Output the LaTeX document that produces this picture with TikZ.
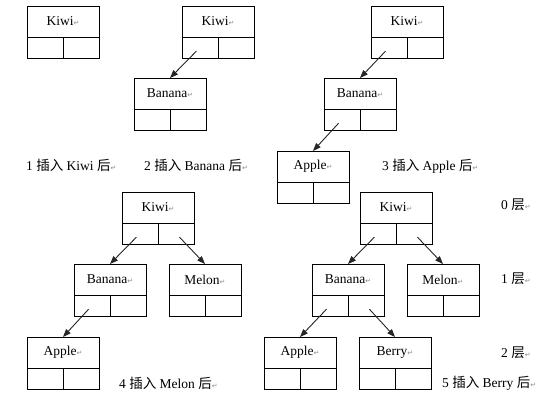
\documentclass[tikz,border=0pt]{standalone}
\usepackage{fontspec}
\setmainfont{Liberation Serif}
\newfontfamily\cjk{Noto Sans CJK SC}
\newfontfamily\symfont{DejaVu Sans}
\usetikzlibrary{arrows.meta}

% paragraph mark as printed after each text
\newcommand{\pmark}{{\symfont\fontsize{7}{7}\selectfont\color{black!45}↵}}

% one tree node: name, x, y (top left), key
\newcommand{\bstnode}[4]{%
  \node [keybox, anchor=north west] (#1) at (#2,#3) {#4\pmark};
  \node [cellbox, anchor=north west] (#1-l) at (#1.south west) {};
  \node [cellbox, anchor=north east] (#1-r) at (#1.south east) {};
}

\tikzset{
  keybox/.style={draw, line width=0.9pt, outer sep=0pt, minimum width=72pt, minimum height=31pt, inner sep=0pt, font=\fontsize{13.5}{15}\selectfont},
  cellbox/.style={draw, line width=0.9pt, outer sep=0pt, minimum width=36pt, minimum height=21pt, inner sep=0pt},
  link/.style={line width=0.9pt, black!85, shorten <=5pt, -{Triangle[length=8pt,width=6pt]}},
  caption/.style={anchor=west, inner sep=0pt, font=\fontsize{13.5}{15}\selectfont}
}

\begin{document}
\begin{tikzpicture}[x=1pt, y=-1pt]

\fill [white] (0,0) rectangle (543,400);
\useasboundingbox (0,0) rectangle (543,400);

% 1
\bstnode{kiwiA}{27}{6}{Kiwi}

% 2
\bstnode{kiwiB}{182}{6}{Kiwi}
\bstnode{bananaB}{134}{78}{Banana}

% 3
\bstnode{kiwiC}{371}{6}{Kiwi}
\bstnode{bananaC}{324}{78}{Banana}
\bstnode{appleC}{277}{151}{Apple}

% 4
\bstnode{kiwiD}{122}{192}{Kiwi}
\bstnode{bananaD}{74}{264}{Banana}
\bstnode{melonD}{169}{264}{Melon}
\bstnode{appleD}{27}{337}{Apple}

% 5
\bstnode{kiwiE}{360}{192}{Kiwi}
\bstnode{bananaE}{312}{264}{Banana}
\bstnode{melonE}{407}{264}{Melon}
\bstnode{appleE}{264}{337}{Apple}
\bstnode{berryE}{359}{337}{Berry}


\draw [link] (kiwiB-l.center) -- (bananaB.north);

\draw [link] (kiwiC-l.center) -- (bananaC.north);
\draw [link] (bananaC-l.center) -- (appleC.north);

\draw [link] (kiwiD-l.center) -- (bananaD.north);
\draw [link] (kiwiD-r.center) -- (melonD.north);
\draw [link] (bananaD-l.center) -- (appleD.north);

\draw [link] (kiwiE-l.center) -- (bananaE.north);
\draw [link] (kiwiE-r.center) -- (melonE.north);
\draw [link] (bananaE-l.center) -- (appleE.north);
\draw [link] (bananaE-r.center) -- (berryE.north);


\node [caption] (capA) at (26,165) {1 {\cjk 插入} Kiwi {\cjk 后}\pmark};
\node [caption] (capB) at (144,165) {2 {\cjk 插入} Banana {\cjk 后}\pmark};
\node [caption] (capC) at (382,166) {3 {\cjk 插入} Apple {\cjk 后}\pmark};
\node [caption] (capD) at (119,383) {4 {\cjk 插入} Melon {\cjk 后}\pmark};
\node [caption] (capE) at (442,383) {5 {\cjk 插入} Berry {\cjk 后}\pmark};

\node [caption] (level0) at (501,205) {0 {\cjk 层}\pmark};
\node [caption] (level1) at (501,279) {1 {\cjk 层}\pmark};
\node [caption] (level2) at (501,353) {2 {\cjk 层}\pmark};

\end{tikzpicture}
\end{document}
